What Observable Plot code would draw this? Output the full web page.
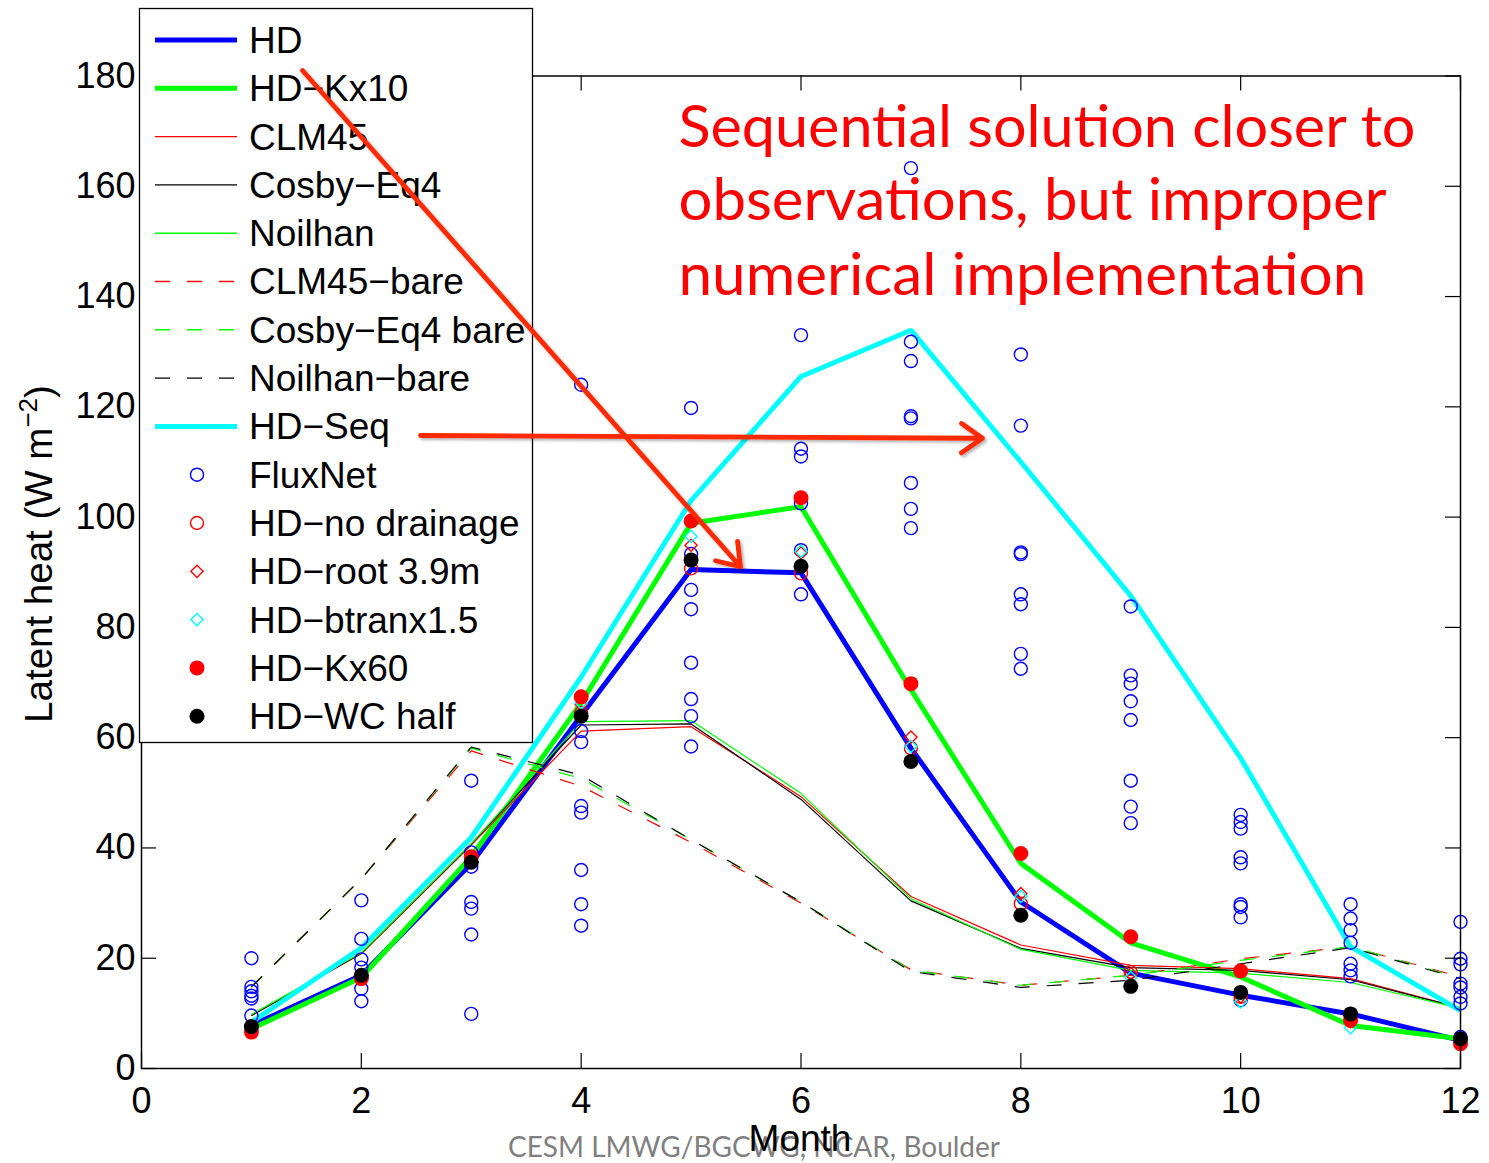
<!DOCTYPE html>
<html><head><meta charset="utf-8">
<script src="https://cdn.jsdelivr.net/npm/d3@7"></script>
<script src="https://cdn.jsdelivr.net/npm/@observablehq/plot@0.6"></script>
<style>body{margin:0;background:#fff;} #chart{width:1489px;height:1163px;}</style>
</head><body><div id="chart"></div>
<script>
// ---------- data ----------
const months = [1,2,3,4,5,6,7,8,9,10,11,12];
const HD        = [7.8, 16.9, 37.2, 64.0, 90.5, 89.9, 58.1, 30.2, 17.3, 13.3, 9.9, 5.1];
const HD_Kx10   = [7.2, 16.5, 38.4, 66.3, 98.9, 101.9, 68.7, 37.2, 22.8, 16.6, 7.8, 5.4];
const CLM45     = [9.6, 20.8, 40.5, 61.2, 62.0, 49.3, 31.2, 22.4, 18.7, 18.1, 16.3, 11.0];
const Cosby_Eq4 = [9.6, 20.9, 40.7, 62.3, 62.5, 48.8, 30.4, 21.8, 18.3, 17.8, 16.1, 11.0];
const Noilhan   = [9.8, 21.0, 40.8, 62.9, 63.1, 49.9, 30.8, 21.6, 17.8, 17.3, 15.6, 10.9];
const CLM45_bare     = [14.8, 34.4, 57.6, 51.2, 41.0, 30.0, 17.9, 15.1, 16.9, 19.9, 22.1, 16.6];
const Cosby_Eq4_bare = [14.8, 34.4, 58.1, 52.6, 41.5, 30.2, 17.8, 15.1, 16.9, 19.6, 22.1, 16.4];
const Noilhan_bare   = [14.8, 34.4, 58.3, 53.2, 41.5, 30.2, 17.6, 14.7, 16.0, 19.0, 21.9, 16.3];
const HD_Seq    = [8.4, 21.9, 41.9, 71.0, 103.0, 125.5, 133.9, 110.0, 85.7, 56.3, 22.1, 10.5];
const FluxNet = [
  [20.0, 14.8, 14.0, 13.2, 12.7, 9.6],
  [30.5, 23.5, 19.8, 18.3, 16.6, 14.5, 12.2],
  [52.2, 39.2, 36.6, 30.2, 29.0, 24.3, 9.9],
  [124.0, 61.2, 59.2, 47.6, 46.4, 36.0, 29.8, 25.9],
  [119.8, 93.3, 86.8, 83.3, 73.6, 67.0, 63.9, 58.4],
  [133.0, 112.4, 111.0, 102.5, 94.0, 86.0],
  [163.3, 131.8, 128.3, 118.3, 117.9, 106.2, 101.5, 98.0],
  [129.5, 116.6, 93.6, 93.3, 86.0, 84.2, 75.2, 72.5],
  [83.8, 71.3, 69.8, 66.6, 63.2, 52.2, 47.5, 44.5],
  [46.0, 44.7, 43.5, 38.3, 37.2, 29.8, 29.3, 27.4, 12.4],
  [29.8, 27.2, 25.1, 22.8, 19.0, 17.8, 16.7],
  [26.6, 19.9, 18.9, 15.4, 14.7, 13.0, 11.8, 5.7]
];
const HD_no_drainage = [7.4, 16.8, 37.5, 64.5, 90.7, 89.8, 58.1, 29.9, 17.5, 13.0, 9.5, 5.2];
const HD_root39      = [7.5, 17.0, 38.0, 66.0, 94.9, 93.5, 60.1, 31.7, 17.2, 13.0, 8.5, 5.3];
const HD_btranx15    = [7.6, 17.0, 38.0, 66.3, 96.5, 93.8, 58.4, 31.2, 16.5, 12.1, 7.4, 5.5];
const HD_Kx60        = [6.6, 16.3, 38.4, 67.4, 99.3, 103.5, 69.8, 39.0, 23.9, 17.7, 8.7, 4.5];
const HD_WC_half     = [7.6, 16.9, 37.4, 63.9, 92.2, 91.1, 55.7, 27.8, 14.9, 13.8, 9.9, 5.4];

const xTicks = [0,2,4,6,8,10,12];
const yTicks = [0,20,40,60,80,100,120,140,160,180];
const xLabel = "Month";
const yLabel = ["Latent heat (W m", "\u22122", ")"];
const footer = "CESM LMWG/BGCWG, NCAR, Boulder";
const annotationLines = ["Sequential solution closer to", "observations, but improper", "numerical implementation"];
const annotationX = [4.885, 4.885, 4.885];
const annotationY = [167.2, 153.8, 140.2];
const arrowFrom = [[1.465, 181.0], [2.538, 114.8]];
const arrowTo   = [[5.449, 91.0], [7.651, 114.3]];

// ---------- styles ----------
const FONT = '"Liberation Sans", Arial, Helvetica, sans-serif';
const lineSeries = [
  {name:"HD", values:HD, color:"#0000ff", width:5},
  {name:"HD\u2212Kx10", values:HD_Kx10, color:"#00ff00", width:5},
  {name:"CLM45", values:CLM45, color:"#ff0000", width:1.2},
  {name:"Cosby\u2212Eq4", values:Cosby_Eq4, color:"#000000", width:1.2},
  {name:"Noilhan", values:Noilhan, color:"#00ff00", width:1.2},
  {name:"CLM45\u2212bare", values:CLM45_bare, color:"#ff0000", width:1.2, dash:"15,17"},
  {name:"Cosby\u2212Eq4 bare", values:Cosby_Eq4_bare, color:"#00ff00", width:1.2, dash:"15,17"},
  {name:"Noilhan\u2212bare", values:Noilhan_bare, color:"#000000", width:1.2, dash:"15,17"},
  {name:"HD\u2212Seq", values:HD_Seq, color:"#00ffff", width:5}
];
const dotSeries = [
  {name:"FluxNet", symbol:"circle", r:6.5, stroke:"#0000ff", fill:"none"},
  {name:"HD\u2212no drainage", values:HD_no_drainage, symbol:"circle", r:6.5, stroke:"#ff0000", fill:"none"},
  {name:"HD\u2212root 3.9m", values:HD_root39, symbol:"diamond2", r:5.5, stroke:"#ff0000", fill:"none"},
  {name:"HD\u2212btranx1.5", values:HD_btranx15, symbol:"diamond2", r:5.5, stroke:"#00ffff", fill:"none"},
  {name:"HD\u2212Kx60", values:HD_Kx60, symbol:"circle", r:7.5, stroke:"none", fill:"#ff0000"},
  {name:"HD\u2212WC half", values:HD_WC_half, symbol:"circle", r:7.5, stroke:"none", fill:"#000000"}
];

const W = 1489, H = 1163, mL = 141, mR = 29, mT = 75.5, mB = 95;
const plotW = W - mL - mR, plotH = H - mT - mB;
const TICK = 15;

const rows = v => months.map((m, i) => ({month: m, value: v[i]}));
const fluxRows = FluxNet.flatMap((vals, i) => vals.map(v => ({month: months[i], value: v})));

const marks = [];
for (const s of lineSeries) {
  marks.push(Plot.line(rows(s.values), {x: "month", y: "value", stroke: s.color, strokeWidth: s.width,
    strokeDasharray: s.dash, strokeLinejoin: "miter", strokeLinecap: "butt"}));
}
for (const d of dotSeries) {
  const data = d.values ? rows(d.values) : fluxRows;
  marks.push(Plot.dot(data, {x: "month", y: "value", r: d.r, symbol: d.symbol, stroke: d.stroke, fill: d.fill, strokeWidth: 1.4}));
}
marks.push(
  Plot.frame({stroke: "black", strokeWidth: 1.5}),
  Plot.ruleX(xTicks, {x: d => d, insetTop: plotH - TICK, stroke: "black", strokeWidth: 1.2}),
  Plot.ruleX(xTicks, {x: d => d, insetBottom: plotH - TICK, stroke: "black", strokeWidth: 1.2}),
  Plot.ruleY(yTicks, {y: d => d, insetRight: plotW - TICK, stroke: "black", strokeWidth: 1.2}),
  Plot.ruleY(yTicks, {y: d => d, insetLeft: plotW - TICK, stroke: "black", strokeWidth: 1.2}),
  Plot.axisX(xTicks, {anchor: "bottom", tickSize: 0, tickPadding: 19, fontSize: 36, label: null, fill: "black"}),
  Plot.axisY(yTicks, {anchor: "left", tickSize: 0, tickPadding: 6, fontSize: 36, label: null, fill: "black"}),
  Plot.text(annotationLines.map((t, i) => ({t, x: annotationX[i], y: annotationY[i]})),
    {x: "x", y: "y", text: "t", textAnchor: "start", lineAnchor: "bottom", fontSize: 59,
     fontFamily: "Lato, 'Open Sans', sans-serif", fill: "#ff0000"}),
  Plot.arrow(arrowFrom.map((f, i) => ({x1: f[0], y1: f[1], x2: arrowTo[i][0], y2: arrowTo[i][1]})),
    {x1: "x1", y1: "y1", x2: "x2", y2: "y2", stroke: "#ff2a00", strokeWidth: 4.8, headLength: 8, headAngle: 70})
);

const chart = Plot.plot({
  width: W, height: H, marginLeft: mL, marginRight: mR, marginTop: mT, marginBottom: mB,
  x: {domain: [0, 12], axis: null, label: null},
  y: {domain: [0, 180], axis: null, label: null},
  style: {fontFamily: FONT, fontSize: "36px", color: "black", background: "white", overflow: "visible"},
  marks
});
document.getElementById("chart").appendChild(chart);

// ---------- post-processing: legend, labels, footer ----------
const svg = d3.select(chart);
const defs = svg.insert("defs", ":first-child");
defs.append("filter").attr("id", "arrowShadow").attr("x", "-10%").attr("y", "-10%").attr("width", "130%").attr("height", "130%")
  .append("feDropShadow").attr("dx", 2).attr("dy", 2).attr("stdDeviation", 1.5).attr("flood-color", "#000").attr("flood-opacity", 0.3);

const arrowsG = svg.selectAll(":scope > g").filter(function() {
  return this.getAttribute("aria-label") === "arrow";
});
arrowsG.attr("filter", "url(#arrowShadow)");

// stretch annotation text to the width of the original lettering
const annTexts = svg.selectAll("text").filter(function() { return annotationLines.includes(this.textContent); }).nodes();
const annTargets = [737, 708, 688];
annTexts.forEach(t => {
  const i = annotationLines.indexOf(t.textContent);
  t.setAttribute("textLength", annTargets[i]);
  t.setAttribute("lengthAdjust", "spacingAndGlyphs");
});

// footer (behind the x label)
svg.append("text").attr("x", 754).attr("y", 1157).attr("text-anchor", "middle")
  .attr("font-family", "Lato, 'Open Sans', sans-serif").attr("font-size", 29).attr("fill", "#7f7f7f")
  .attr("textLength", 492).attr("lengthAdjust", "spacingAndGlyphs").text(footer);
// x label
svg.append("text").attr("x", 800).attr("y", 1151).attr("text-anchor", "middle")
  .attr("font-size", 37).attr("fill", "black").text(xLabel);
// y label
const yl = svg.append("text").attr("transform", "translate(52,554) rotate(-90)").attr("text-anchor", "middle")
  .attr("font-size", 38.5).attr("fill", "black");
yl.append("tspan").text(yLabel[0]);
yl.append("tspan").attr("font-size", 26).attr("dy", -15).text(yLabel[1]);
yl.append("tspan").attr("dy", 15).text(yLabel[2]);

// legend (drawn above the data, below the arrows)
const legend = svg.append("g").attr("text-anchor", "start");
legend.append("rect").attr("x", 139.5).attr("y", 8.5).attr("width", 393).attr("height", 734)
  .attr("fill", "white").attr("stroke", "black").attr("stroke-width", 1.3);
const entries = [...lineSeries.map(s => ({...s, kind: "line"})), ...dotSeries.map(d => ({...d, kind: "dot"}))];
const symbolMap = {circle: d3.symbolCircle, diamond2: d3.symbolDiamond2};
entries.forEach((e, i) => {
  const y = 40 + i * 48.3;
  if (e.kind === "line") {
    legend.append("line").attr("x1", 155).attr("x2", 237).attr("y1", y).attr("y2", y)
      .attr("stroke", e.color).attr("stroke-width", Math.max(e.width, 1.4)).attr("stroke-dasharray", e.dash || null);
  } else {
    legend.append("path").attr("transform", `translate(197,${y})`)
      .attr("d", d3.symbol(symbolMap[e.symbol], Math.PI * e.r * e.r)())
      .attr("fill", e.fill).attr("stroke", e.stroke).attr("stroke-width", 1.4);
  }
  legend.append("text").attr("x", 249).attr("y", y).attr("dy", "0.35em").attr("font-size", 37)
    .attr("text-anchor", "start").attr("fill", "black").text(e.name);
});
// bring the annotation arrows back on top of the legend
arrowsG.raise();
</script>
</body></html>
